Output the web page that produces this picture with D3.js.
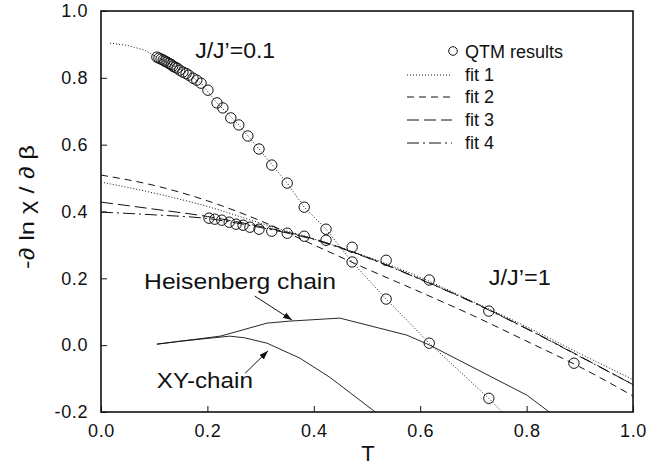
<!DOCTYPE html>
<html><head><meta charset="utf-8">
<script src="https://cdn.jsdelivr.net/npm/d3@7"></script>
<style>
body{margin:0;background:#fff;}
text{font-family:"Liberation Sans",Arial,sans-serif;fill:#111;}
</style></head>
<body><svg id="c" width="647" height="465"></svg>
<script>
// ---- data ----
const xTicks = [0.0, 0.2, 0.4, 0.6, 0.8, 1.0];
const yTicks = [-0.2, 0.0, 0.2, 0.4, 0.6, 0.8, 1.0];

// QTM results, J/J'=0.1
const qtm01T = [0.105,0.109,0.113,0.117,0.120,0.124,0.128,0.132,0.135,0.139,0.143,0.148,0.154,0.160,0.165,0.173,0.180,0.188,
                0.201,0.218,0.229,0.244,0.259,0.276,0.297,0.321,0.350,0.382,0.423,0.472,0.536,0.617,0.729];
const qtm01V = [0.862,0.859,0.856,0.853,0.850,0.847,0.843,0.840,0.835,0.832,0.829,0.823,0.817,0.813,0.808,0.799,0.793,0.784,
                0.763,0.725,0.710,0.680,0.659,0.626,0.587,0.539,0.485,0.413,0.347,0.249,0.138,0.006,-0.159];
// QTM results, J/J'=1
const qtm1T = [0.203,0.214,0.227,0.241,0.254,0.267,0.280,0.297,0.321,0.350,0.382,0.423,0.472,0.536,0.617,0.729,0.889];
const qtm1V = [0.380,0.377,0.374,0.368,0.362,0.359,0.353,0.347,0.341,0.335,0.326,0.314,0.293,0.254,0.195,0.102,-0.054];

// fit for J/J'=0.1 (dotted)
const fit01T = [0.017,0.05,0.08,0.105,0.15,0.188,0.218,0.259,0.297,0.350,0.382,0.423,0.472,0.536,0.617,0.729,0.754];
const fit01V = [0.904,0.897,0.884,0.862,0.825,0.784,0.725,0.659,0.587,0.485,0.413,0.347,0.249,0.138,0.006,-0.159,-0.2];

// fits for J/J'=1
const fitT  = [0.0,0.1,0.2,0.3,0.4,0.5,0.6,0.7,0.8,0.9,1.0];
const fit1V = [0.488,0.455,0.415,0.365,0.318,0.265,0.203,0.130,0.055,-0.025,-0.103];
const fit2V = [0.509,0.478,0.432,0.372,0.300,0.228,0.159,0.088,0.012,-0.065,-0.152];
const fit3V = [0.428,0.407,0.385,0.355,0.318,0.263,0.198,0.128,0.050,-0.033,-0.118];
const fit4V = [0.398,0.390,0.379,0.352,0.316,0.262,0.197,0.127,0.049,-0.034,-0.118];

// reference chains
const heisT = [0.105,0.150,0.224,0.265,0.312,0.355,0.449,0.575,0.618,0.801,0.846];
const heisV = [0.003,0.012,0.027,0.045,0.066,0.072,0.081,0.030,0.000,-0.150,-0.204];
const xyT   = [0.105,0.150,0.242,0.270,0.312,0.374,0.430,0.519];
const xyV   = [0.003,0.012,0.027,0.022,0.006,-0.039,-0.096,-0.204];

const legendLabels = ["QTM results","fit 1","fit 2","fit 3","fit 4"];
const fitDash = ["1,2","7,5","12,5","12,4,2,4"];

// ---- layout ----
const svg = d3.select("#c");
const L = 101, T0 = 11, W = 532, H = 401;
const x = d3.scaleLinear().domain([0,1]).range([L, L+W]);
const y = d3.scaleLinear().domain([-0.2,1.0]).range([T0+H, T0]);

svg.append("defs").append("clipPath").attr("id","clip")
  .append("rect").attr("x",L).attr("y",T0).attr("width",W).attr("height",H);
const mk = svg.select("defs").append("marker").attr("id","arr")
  .attr("viewBox","0 0 10 10").attr("refX",10).attr("refY",5)
  .attr("markerWidth",9).attr("markerHeight",9).attr("markerUnits","userSpaceOnUse").attr("orient","auto");
mk.append("path").attr("d","M0,1.5 L10,5 L0,8.5 Z").attr("fill","#111");

const zip = (a,b)=>a.map((t,i)=>[t,b[i]]);
const line = d3.line().x(d=>x(d[0])).y(d=>y(d[1])).curve(d3.curveMonotoneX);
const lin  = d3.line().x(d=>x(d[0])).y(d=>y(d[1]));

const g = svg.append("g").attr("clip-path","url(#clip)");

// fit lines J/J'=1
[fit1V, fit2V, fit3V, fit4V].forEach((v,i)=>{
  g.append("path").attr("d", line(zip(fitT, v))).attr("fill","none")
   .attr("stroke","#111").attr("stroke-width", 1).attr("stroke-dasharray", fitDash[i]);
});
// fit J/J'=0.1
g.append("path").attr("d", lin(zip(fit01T, fit01V))).attr("fill","none")
 .attr("stroke","#111").attr("stroke-width",1).attr("stroke-dasharray","1,2");

// chains
g.append("path").attr("d", lin(zip(heisT, heisV))).attr("fill","none").attr("stroke","#111").attr("stroke-width",0.9);
g.append("path").attr("d", lin(zip(xyT, xyV))).attr("fill","none").attr("stroke","#111").attr("stroke-width",0.9);

// circles
const pts = zip(qtm01T, qtm01V).concat(zip(qtm1T, qtm1V));
g.selectAll("circle.q").data(pts).enter().append("circle").attr("class","q")
 .attr("cx",d=>x(d[0])).attr("cy",d=>y(d[1])).attr("r",5.2)
 .attr("fill","none").attr("stroke","#111").attr("stroke-width",1);

// axes
const ax = svg.append("g").attr("transform",`translate(0,${T0+H})`)
  .call(d3.axisBottom(x).tickValues(xTicks).tickFormat(d3.format(".1f")).tickSizeInner(-6).tickSizeOuter(0).tickPadding(12));
const ay = svg.append("g").attr("transform",`translate(${L},0)`)
  .call(d3.axisLeft(y).tickValues(yTicks).tickFormat(d3.format(".1f")).tickSizeInner(-6).tickSizeOuter(0).tickPadding(13));
[ax, ay].forEach(a=>{
  a.select(".domain").remove();
  a.selectAll("line").attr("stroke","#111").attr("stroke-width",1);
  a.selectAll("text").attr("font-family","Liberation Sans, Arial, sans-serif").attr("font-size",18)
   .attr("letter-spacing",0.6).attr("fill","#111");
});
ay.selectAll("text").text(d=>d<0?"-"+Math.abs(d).toFixed(1):d.toFixed(1));
svg.append("rect").attr("x",L).attr("y",T0).attr("width",W).attr("height",H)
  .attr("fill","none").attr("stroke","#111").attr("stroke-width",1.6);

// axis titles
svg.append("text").attr("x",368).attr("y",461).attr("text-anchor","middle").attr("font-size",22).text("T");
svg.append("text").attr("transform","translate(34,207) rotate(-90)").attr("text-anchor","middle")
  .attr("font-size",21).attr("textLength",124).attr("lengthAdjust","spacingAndGlyphs").text("-∂ ln χ / ∂ β");

// annotations
const ann = (t,v,s,len)=>svg.append("text").attr("x",x(t)).attr("y",y(v)).attr("font-size",22)
   .attr("textLength",len).attr("lengthAdjust","spacingAndGlyphs").text(s);
ann(0.177,0.859,"J/J’=0.1",80);
ann(0.729,0.180,"J/J’=1",62);
ann(0.081,0.168,"Heisenberg chain",192);
ann(0.105,-0.129,"XY-chain",96);
svg.append("line").attr("x1",x(0.289)).attr("y1",y(0.147)).attr("x2",x(0.359)).attr("y2",y(0.075))
  .attr("stroke","#111").attr("stroke-width",1).attr("marker-end","url(#arr)");
svg.append("line").attr("x1",x(0.271)).attr("y1",y(-0.084)).attr("x2",x(0.314)).attr("y2",y(-0.017))
  .attr("stroke","#111").attr("stroke-width",1).attr("marker-end","url(#arr)");

// legend
const lg = svg.append("g");
const base = [58,81,103,126,149];
legendLabels.forEach((s,i)=>{
  lg.append("text").attr("x",465).attr("y",base[i]).attr("font-size",18).text(s);
  if(i===0){
    lg.append("circle").attr("cx",453).attr("cy",base[i]-7).attr("r",4.3).attr("fill","none").attr("stroke","#111").attr("stroke-width",1);
  } else {
    lg.append("line").attr("x1",407).attr("x2",452).attr("y1",base[i]-6).attr("y2",base[i]-6)
      .attr("stroke","#111").attr("stroke-width",1).attr("stroke-dasharray",fitDash[i-1]);
  }
});
</script></body></html>
